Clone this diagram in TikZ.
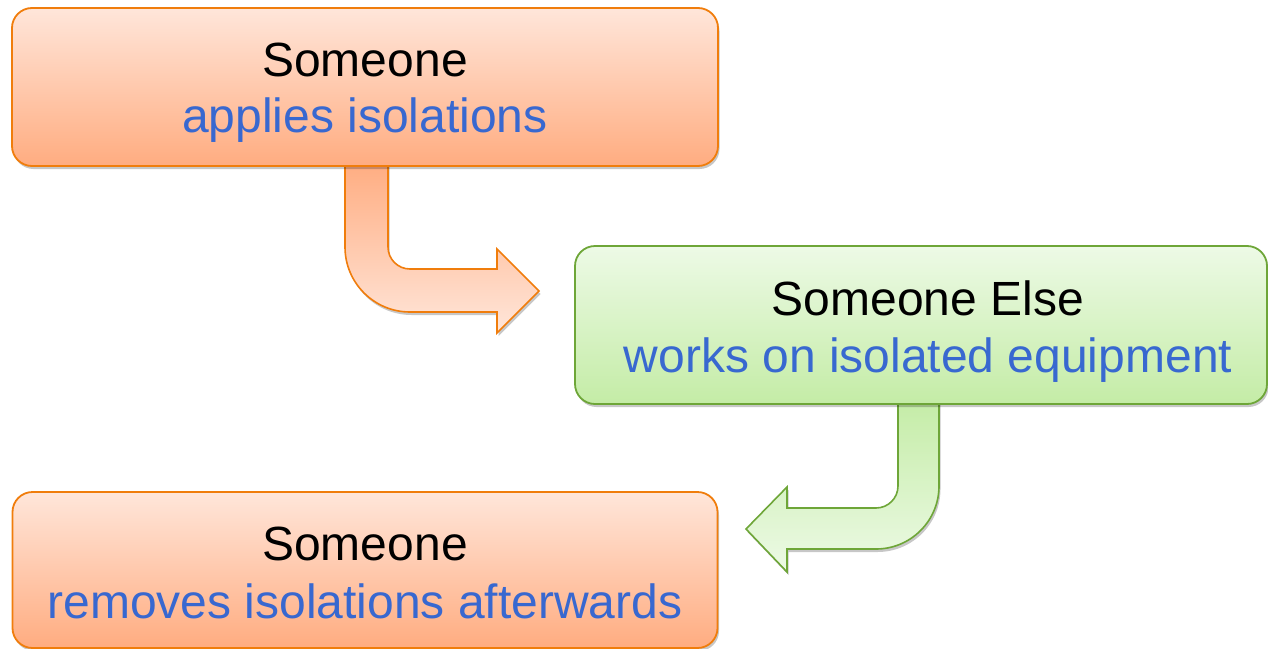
\documentclass[tikz,border=0pt]{standalone}
\usepackage{fontspec}
\setmainfont{Liberation Sans}
\usetikzlibrary{shadows}
\definecolor{orBorder}{RGB}{240,125,12}
\definecolor{orLight}{RGB}{255,230,218}
\definecolor{orDark}{RGB}{255,172,128}
\definecolor{grBorder}{RGB}{110,166,56}
\definecolor{grLight}{RGB}{237,250,230}
\definecolor{grDark}{RGB}{196,236,166}
\definecolor{txtBlue}{RGB}{56,104,208}
\tikzset{
  shad/.style={drop shadow={shadow xshift=1.5pt, shadow yshift=-3pt, opacity=0.22, fill=black}},
  obox/.style={shad, draw=orBorder, line width=1.8pt, rounded corners=20pt, top color=orLight, bottom color=orDark, inner sep=0pt},
  gbox/.style={shad, draw=grBorder, line width=1.8pt, rounded corners=20pt, top color=grLight, bottom color=grDark, inner sep=0pt},
  oarrow/.style={shad, draw=orBorder, line width=1.6pt, line join=miter, top color=orDark, bottom color=orLight},
  garrow/.style={shad, draw=grBorder, line width=1.6pt, line join=miter, top color=grDark, bottom color=grLight},
  txt/.style={font=\fontsize{48}{56}\selectfont, inner sep=0pt, anchor=base},
  head/.style={txt, text=black},
  sub/.style={txt, text=txtBlue}
}
\begin{document}
\begin{tikzpicture}[x=1pt,y=-1pt]
\useasboundingbox (0,0) rectangle (1268,648);
% arrows (drawn first, boxes overlap their roots)
\draw[oarrow] (345,160) -- (345,247) arc[start angle=180,end angle=90,radius=65]
  -- (497,312) -- (497,333) -- (539,291) -- (497,249) -- (497,269) -- (410,269)
  arc[start angle=90,end angle=180,radius=22] -- (388,160) -- cycle;
\draw[garrow] (939,398) -- (939,486) arc[start angle=0,end angle=90,radius=63]
  -- (787,549) -- (787,572) -- (746,529) -- (787,487) -- (787,508) -- (876,508)
  arc[start angle=90,end angle=0,radius=22] -- (898,398) -- cycle;
% boxes
\node[obox, minimum width=706pt, minimum height=158pt] (b1) at (365,87) {};
\node[gbox, minimum width=692pt, minimum height=158pt] (b2) at (921,325) {};
\node[obox, minimum width=705pt, minimum height=156pt] (b3) at (365,570) {};
% texts
\node[head] (b1a) at (365,76) {Someone};
\node[sub]  (b1b) at (365,132) {applies isolations};
\node[head] (b2a) at (928,315) {Someone Else};
\node[sub]  (b2b) at (928,372) {works on isolated equipment};
\node[head] (b3a) at (365,560) {Someone};
\node[sub]  (b3b) at (365,618) {removes isolations afterwards};
\end{tikzpicture}
\end{document}
